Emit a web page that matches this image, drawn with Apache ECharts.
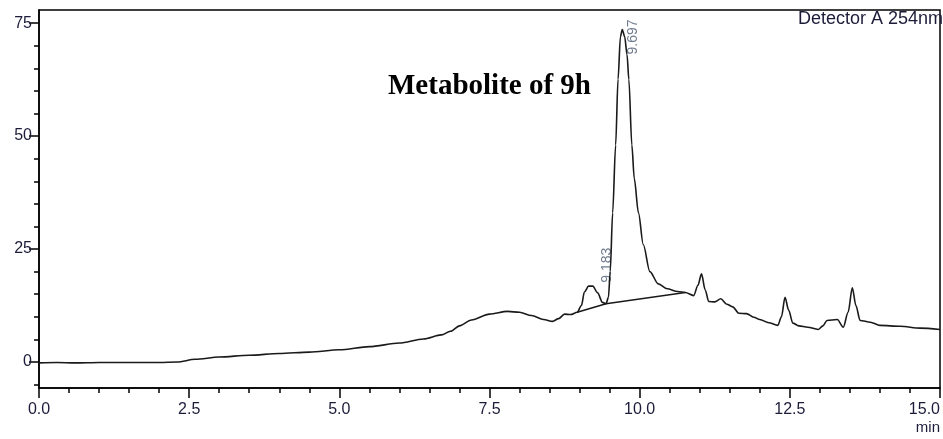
<!DOCTYPE html>
<html>
<head>
    <meta charset="UTF-8">
    <title>Metabolite of 9h</title>
    <script src="https://cdn.jsdelivr.net/npm/echarts@6/dist/echarts.min.js"></script>
    <style>
        html, body { margin: 0; padding: 0; background: #fff; }
    </style>
</head>
<body>
<div id="chart" style="width: 943px; height: 439px;"></div>

<script>
    // retention time (min) and detector signal
    const times = [0.0, 0.3, 0.6, 1.0, 1.5, 2.0, 2.3, 2.6, 3.0, 3.5, 4.0, 4.5, 5.0, 5.5, 6.0, 6.4, 6.7, 6.85,
        7.0, 7.2, 7.5, 7.8, 8.0, 8.2, 8.4, 8.55, 8.65, 8.75, 8.85, 8.96, 9.03, 9.08, 9.15, 9.22, 9.3, 9.38,
        9.44, 9.48, 9.51, 9.55, 9.60, 9.64, 9.68, 9.71, 9.75, 9.79, 9.82, 9.87, 9.91, 9.98, 10.06, 10.17,
        10.31, 10.46, 10.63, 10.76, 10.9, 10.97, 11.03, 11.09, 11.15, 11.25, 11.35, 11.45, 11.55, 11.65,
        11.78, 11.9, 12.0, 12.15, 12.3, 12.36, 12.42, 12.48, 12.55, 12.65, 12.8, 12.97, 13.05, 13.12, 13.29,
        13.39, 13.47, 13.54, 13.6, 13.67, 13.84, 14.0, 14.34, 14.67, 15.0];
    const signal = [-0.2, -0.1, -0.2, -0.1, -0.1, -0.1, 0.0, 0.6, 1.1, 1.5, 1.9, 2.2, 2.7, 3.4, 4.2, 5.1, 6.0, 6.8,
        8.0, 9.3, 10.6, 11.2, 11.0, 10.3, 9.4, 9.0, 9.6, 10.6, 10.5, 11.0, 12.5, 15.5, 16.8, 16.8, 15.3, 13.2,
        12.9, 14.3, 20, 33, 48, 62.6, 72, 73.6, 72, 68, 62.5, 48, 40.6, 33, 26, 20,
        17.3, 16.2, 15.6, 15.4, 14.7, 17.0, 19.5, 16.0, 13.4, 13.3, 14.0, 12.8, 12.2, 10.8,
        10.7, 9.9, 9.4, 8.7, 8.1, 10, 14.3, 11.5, 8.6, 8.0, 7.7, 7.2, 8.0, 9.2, 9.4,
        7.7, 11, 16.4, 12.5, 9.2, 8.8, 8.1, 7.9, 7.5, 7.2];

    // integration baseline drawn under the peaks
    const baseTimes = [8.96, 9.44, 10.76];
    const baseValues = [11.0, 12.9, 15.4];

    // labelled peaks
    const peakTimes = [9.183, 9.697];
    const peakValues = [16.9, 73.6];

    const yLabels = [0, 25, 50, 75];
    const yMinorTicks = [-5, 5, 10, 15, 20, 30, 35, 40, 45, 55, 60, 65, 70];

    const trace = times.map((t, i) => [t, signal[i]]);
    const baseline = baseTimes.map((t, i) => [t, baseValues[i]]);
    // label offsets are in the rotated text frame: [along text (up), across (right)]
    const peakOffsets = [[3, 17], [-25, 12]];
    const peaks = peakTimes.map((t, i) => ({
        value: [t, peakValues[i]],
        label: { offset: peakOffsets[i] }
    }));

    const txt = '#1c1c3a';
    const axisStyle = { color: '#000', width: 1.5 };
    const yMin = -5.75, yMax = 77.9;

    const chart = echarts.init(document.getElementById('chart'));
    const option = {
        animation: false,
        grid: {
            left: 39, right: 3, top: 10, bottom: 51,
            containLabel: false,
            outerBoundsMode: 'none',
            show: true, borderColor: '#000', borderWidth: 1.5
        },
        xAxis: {
            type: 'value',
            min: 0, max: 15, interval: 2.5,
            axisLine: { onZero: false, lineStyle: axisStyle },
            axisTick: { length: 10, lineStyle: axisStyle },
            minorTick: { show: true, splitNumber: 5, length: 5, lineStyle: axisStyle },
            axisLabel: {
                color: txt, fontFamily: 'Liberation Sans', fontSize: 16, margin: 14,
                alignMaxLabel: 'right',
                formatter: v => v.toFixed(1)
            },
            splitLine: { show: false }
        },
        yAxis: [
            {
                type: 'value',
                min: yMin, max: yMax,
                axisLine: { show: true, onZero: false, lineStyle: axisStyle },
                axisTick: { show: true, length: 10, customValues: yLabels, lineStyle: axisStyle },
                axisLabel: {
                    color: txt, fontFamily: 'Liberation Sans', fontSize: 16, margin: 7,
                    customValues: yLabels
                },
                splitLine: { show: false }
            },
            {
                type: 'value',
                position: 'left',
                min: yMin, max: yMax,
                axisLine: { show: false, onZero: false },
                axisTick: { show: true, length: 5, customValues: yMinorTicks, lineStyle: axisStyle },
                axisLabel: { show: false },
                splitLine: { show: false }
            }
        ],
        graphic: [
            {
                type: 'text', right: 0, top: 10,
                style: { text: 'Detector A 254nm', fill: txt, font: '18px "Liberation Sans"' }
            },
            {
                type: 'text', left: 388, top: 72,
                style: { text: 'Metabolite of 9h', fill: '#000', font: 'bold 29px "Liberation Serif"' }
            },
            {
                type: 'text', right: 3, top: 420,
                style: { text: 'min', fill: txt, font: '15px "Liberation Sans"' }
            }
        ],
        series: [
            {
                type: 'line',
                data: trace,
                smooth: 0.3,
                smoothMonotone: 'x',
                showSymbol: false,
                lineStyle: { color: '#1a1a1a', width: 1.6 }
            },
            {
                type: 'line',
                data: baseline,
                showSymbol: false,
                lineStyle: { color: '#1a1a1a', width: 1.6 }
            },
            {
                type: 'scatter',
                data: peaks,
                symbolSize: 0,
                label: {
                    show: true,
                    formatter: p => p.value[0].toFixed(3),
                    rotate: 90,
                    position: 'inside',
                    align: 'left',
                    verticalAlign: 'middle',
                    color: '#4a5a70',
                    fontFamily: 'Liberation Sans',
                    fontSize: 14
                }
            }
        ]
    };
    chart.setOption(option);
</script>
</body>
</html>
